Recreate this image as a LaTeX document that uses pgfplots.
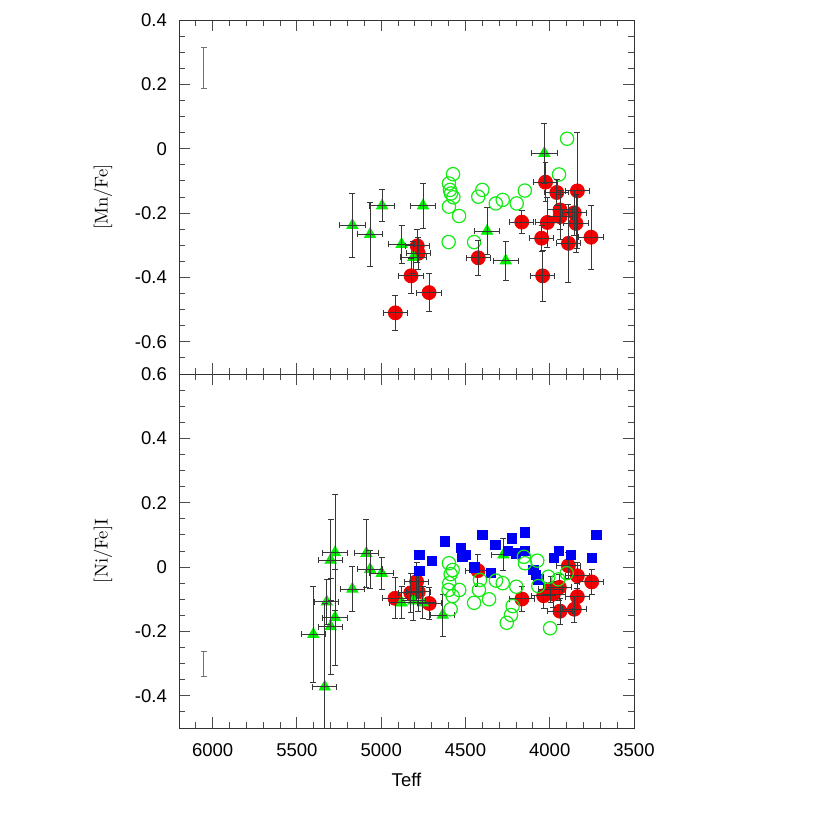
\documentclass[border=0pt]{standalone}
\usepackage{fontspec}
\usepackage{pgfplots}
\usepackage{pgfplotstable}
\pgfplotsset{compat=1.18}
\newfontfamily\arial{Liberation Sans}

\definecolor{mnred}{RGB}{240,0,0}
\definecolor{trigrn}{RGB}{0,240,0}
\definecolor{ocgrn}{RGB}{20,235,20}
\definecolor{sqblue}{RGB}{0,0,245}
\definecolor{ebar}{RGB}{55,55,55}

% T  v  ex  ey
\pgfplotstableread{
T v ex ey
4916 -0.510 72 0.055
4716 -0.447 72 0.060
4823 -0.395 72 0.055
4786 -0.302 72 0.050
4780 -0.325 72 0.050
4424 -0.339 72 0.055
4166 -0.228 72 0.035
4048 -0.278 72 0.040
4042 -0.395 72 0.080
4025 -0.104 72 0.060
4014 -0.229 72 0.077
3958 -0.136 72 0.040
3939 -0.190 72 0.060
3939 -0.211 72 0.070
3889 -0.294 72 0.120
3854 -0.199 72 0.070
3844 -0.232 72 0.090
3836 -0.131 72 0.180
3755 -0.275 72 0.100
}\mnred

\pgfplotstableread{
T v ex ey
5171 -0.238 75 0.100
5066 -0.266 75 0.100
4995 -0.177 75 0.050
4752 -0.177 75 0.070
4879 -0.297 75 0.060
4809 -0.337 75 0.050
4372 -0.256 75 0.073
4261 -0.348 75 0.060
4032 -0.014 75 0.094
}\mntri

\pgfplotstableread{
T v
4574 -0.079
4598 -0.108
4592 -0.128
4586 -0.139
4572 -0.151
4598 -0.180
4538 -0.209
4600 -0.290
4449 -0.290
4424 -0.149
4400 -0.128
4320 -0.170
4279 -0.159
4196 -0.170
4148 -0.130
3945 -0.080
3897 0.031
}\mnopen

\pgfplotstableread{
T v ex ey
4918 -0.097 72 0.064
4825 -0.080 72 0.060
4790 -0.045 72 0.060
4780 -0.077 72 0.060
4715 -0.113 72 0.050
4426 -0.011 72 0.050
4165 -0.099 72 0.040
4036 -0.089 72 0.040
3994 -0.069 72 0.040
3978 -0.084 72 0.040
3943 -0.063 72 0.040
3939 -0.137 72 0.040
3889 0.004 72 0.040
3854 -0.131 72 0.040
3836 -0.027 72 0.040
3836 -0.092 72 0.040
3751 -0.046 72 0.040
}\nired

\pgfplotstableread{
T v ex ey
5403 -0.209 72 0.149
5335 -0.372 72 0.260
5323 -0.108 72 0.070
5300 0.022 72 0.126
5274 0.045 72 0.180
5300 -0.185 72 0.150
5274 -0.157 72 0.150
5171 -0.068 72 0.070
5088 0.043 72 0.105
5066 -0.007 72 0.060
4997 -0.019 72 0.050
4879 -0.111 72 0.050
4809 -0.105 72 0.060
4753 -0.111 72 0.050
4635 -0.149 72 0.065
4275 0.038 72 0.050
}\nitri

\pgfplotstableread{
T v
4774 0.038
4774 -0.011
4700 0.020
4623 0.080
4526 0.060
4519 0.032
4497 0.038
4447 -0.001
4400 0.100
4350 -0.019
4323 0.069
4247 0.051
4224 0.089
4202 0.043
4148 0.108
4148 0.051
4097 -0.009
4083 -0.025
4068 -0.038
3975 0.029
3947 0.051
3874 0.038
3749 0.029
3723 0.100
}\nisq

\pgfplotstableread{
T v
4598 0.012
4576 -0.009
4588 -0.022
4596 -0.050
4600 -0.071
4537 -0.071
4576 -0.090
4588 -0.131
4449 -0.111
4414 -0.040
4420 -0.071
4360 -0.100
4319 -0.042
4279 -0.050
4198 -0.061
4220 -0.121
4230 -0.149
4255 -0.173
4153 0.032
4147 0.012
4074 0.020
4068 -0.059
4008 -0.030
3949 -0.038
3899 -0.019
3998 -0.190
}\niopen

\pgfplotsset{
  teffpanel/.style={
    scale only axis, width=245.7pt, height=191.16pt,
    clip mode=individual,
    x dir=reverse, xmin=3500, xmax=6200,
    xtick={3500,4000,4500,5000,5500,6000},
    minor xtick={3600,3700,...,6100},
    tick align=inside, major tick length=6pt, minor tick length=3pt,
    axis line style={black!80, line width=0.5pt},
    tick style={black!70, line width=0.5pt},
    ticklabel style={font=\arial},
    yticklabel style={xshift=-3pt},
    every axis y label/.style={at={(axis description cs:-0.167,0.5)}, rotate=90, anchor=center},
  },
  redmk/.style={only marks, mark=*, mark size=3.8pt, mark options={draw=mnred, fill=mnred}},
  trimk/.style={only marks, mark=triangle*, mark size=3.5pt, mark options={draw=trigrn, fill=trigrn}},
  openmk/.style={only marks, mark=o, mark size=3.6pt, mark options={draw=ocgrn, line width=0.65pt}},
  sqmk/.style={only marks, mark=square*, mark size=2.5pt, mark options={draw=sqblue, fill=sqblue}},
  hidemk/.style={only marks, mark=*, mark size=0pt, mark options={draw=none, fill=none}},
  errs/.style={hidemk,
    error bars/.cd, x dir=both, x explicit, y dir=both, y explicit,
    error mark=-,
    error bar style={draw=#1, solid, line width=0.5pt},
    error mark options={draw=#1, solid, rotate=90, line width=0.5pt, mark size=1.6pt}},
  errsy/.style={hidemk,
    error bars/.cd, y dir=both, y explicit,
    error mark=-,
    error bar style={draw=#1, solid, line width=0.5pt},
    error mark options={draw=#1, solid, rotate=90, line width=0.5pt, mark size=1.6pt}},
}

\begin{document}
\begin{tikzpicture}
\begin{axis}[teffpanel,
  ymin=-0.7, ymax=0.4,
  ytick={-0.6,-0.4,-0.2,0,0.2,0.4},
  yticklabels={-0.6,-0.4,-0.2,0,0.2,0.4},
  minor ytick={-0.65,-0.6,...,0.35},
  xticklabels={},
  ylabel={[Mn/Fe]},
]
\coordinate (TL) at (rel axis cs:0,1);
\addplot[openmk] table[x=T,y=v] \mnopen;
\addplot[redmk] table[x=T,y=v] \mnred;
\addplot[trimk] table[x=T,y=v] \mntri;
\addplot[errs=ebar] table[x=T,y=v,x error=ex,y error=ey] \mnred;
\addplot[errs=ebar] table[x=T,y=v,x error=ex,y error=ey] \mntri;
\addplot[errsy=black!55] coordinates {(6052,0.251) +- (0,0.065)};
\end{axis}

\begin{axis}[teffpanel, at={(0pt,-191.16pt)},
  ymin=-0.5, ymax=0.6,
  ytick={-0.4,-0.2,0,0.2,0.4,0.6},
  yticklabels={-0.4,-0.2,0,0.2,0.4,0.6},
  minor ytick={-0.45,-0.4,...,0.55},
  xticklabels={3500,4000,4500,5000,5500,6000},
  xticklabel style={yshift=-5pt},
  ylabel={[Ni/Fe]I},
  xlabel={\arial Teff},
  every axis x label/.style={at={(axis description cs:0.5,-0.1465)}, anchor=center},
]
\addplot[redmk] table[x=T,y=v] \nired;
\addplot[trimk] table[x=T,y=v] \nitri;
\addplot[errs=ebar] table[x=T,y=v,x error=ex,y error=ey] \nired;
\addplot[errs=ebar] table[x=T,y=v,x error=ex,y error=ey] \nitri;
\addplot[sqmk] table[x=T,y=v] \nisq;
\addplot[openmk] table[x=T,y=v] \niopen;
\addplot[errsy=black!55] coordinates {(6052,-0.302) +- (0,0.039)};
\end{axis}
\path (TL) ++(-96.66pt,10.8pt) rectangle ++(448.2pt,-448.2pt);
\end{tikzpicture}
\end{document}
